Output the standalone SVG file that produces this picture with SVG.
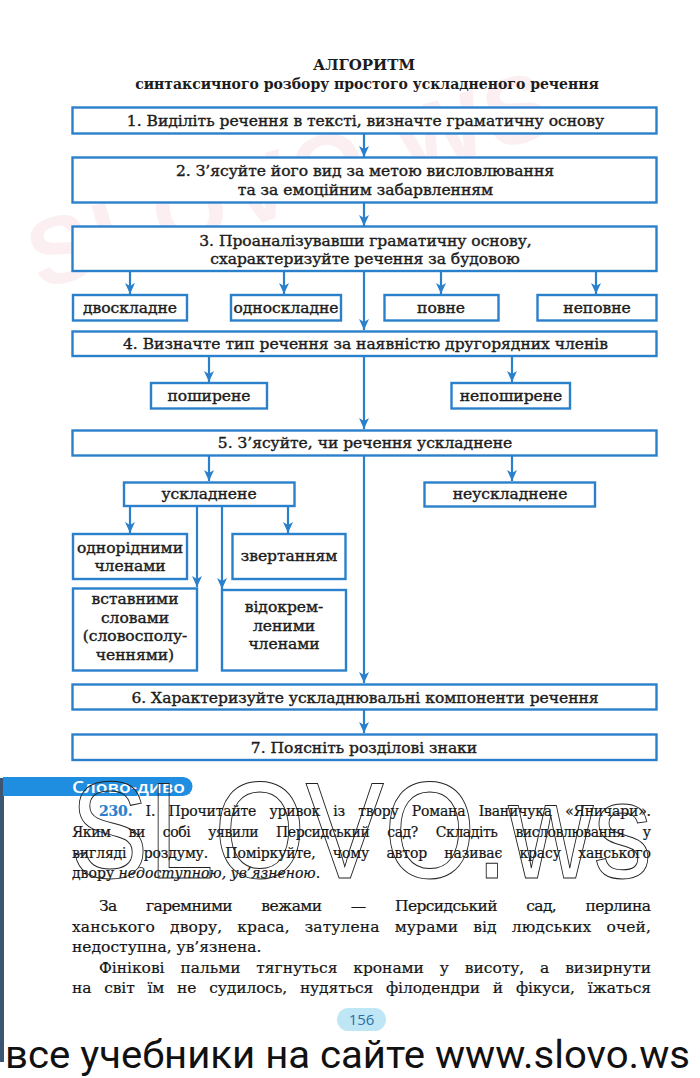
<svg xmlns="http://www.w3.org/2000/svg" width="700" height="1078" viewBox="0 0 700 1078">
<defs>
<style>
.box{fill:#fff;stroke:#2b80cc;stroke-width:2.4}
.t{font-family:"DejaVu Serif","Liberation Serif",serif;font-size:15.5px;fill:#1c1c1c;stroke:#1c1c1c;stroke-width:0.4;text-anchor:middle}
.ttl{font-family:"DejaVu Serif","Liberation Serif",serif;font-weight:bold;fill:#1c1c1c;text-anchor:middle}
.con{fill:none;stroke:#2b80cc;stroke-width:2.2}
.p{font-family:"DejaVu Serif","Liberation Serif",serif;font-size:14px;fill:#151515;stroke:#151515;stroke-width:0.2}
.p2{font-family:"DejaVu Serif","Liberation Serif",serif;font-size:15.5px;fill:#151515;stroke:#151515;stroke-width:0.2}
</style>
<marker id="ah" markerUnits="userSpaceOnUse" markerWidth="11" markerHeight="10" viewBox="0 0 11 10" refX="11" refY="5" orient="auto">
<path d="M0,0 L11,5 L0,10 L3,5 z" fill="#2b80cc"/>
</marker>
</defs>
<rect x="0" y="0" width="700" height="1078" fill="#ffffff"/>
<text x="40" y="290" transform="rotate(-17 40 290)" font-family="Liberation Sans, sans-serif" font-weight="bold" font-size="95" fill="#f2b3bd" opacity="0.2" textLength="540">SLOVO.WS</text>

<g id="title">
<text class="ttl" x="364" y="70" font-size="15">АЛГОРИТМ</text>
<text class="ttl" x="367" y="89" font-size="14">синтаксичного розбору простого ускладненого речення</text>
</g>

<g id="connectors">
<path class="con" d="M364,134 V157" marker-end="url(#ah)"/>
<path class="con" d="M364,203 V226" marker-end="url(#ah)"/>
<path class="con" d="M130,271 V294" marker-end="url(#ah)"/>
<path class="con" d="M284,271 V294" marker-end="url(#ah)"/>
<path class="con" d="M441,271 V294" marker-end="url(#ah)"/>
<path class="con" d="M596,271 V294" marker-end="url(#ah)"/>
<path class="con" d="M364,271 V330" marker-end="url(#ah)"/>
<path class="con" d="M209,356 V382" marker-end="url(#ah)"/>
<path class="con" d="M512,356 V382" marker-end="url(#ah)"/>
<path class="con" d="M364,356 V429" marker-end="url(#ah)"/>
<path class="con" d="M209,456 V481" marker-end="url(#ah)"/>
<path class="con" d="M512,456 V481" marker-end="url(#ah)"/>
<path class="con" d="M364,456 V683" marker-end="url(#ah)"/>
<path class="con" d="M130,506 V533" marker-end="url(#ah)"/>
<path class="con" d="M197,506 V587" marker-end="url(#ah)"/>
<path class="con" d="M222,506 V589" marker-end="url(#ah)"/>
<path class="con" d="M288,506 V533" marker-end="url(#ah)"/>
<path class="con" d="M364,709 V733" marker-end="url(#ah)"/>
</g>

<g id="step1"><rect class="box" x="72.5" y="107.5" width="584" height="26"/><text class="t" x="365.5" y="126">1. Виділіть речення в тексті, визначте граматичну основу</text></g>
<g id="step2"><rect class="box" x="72.5" y="157.5" width="584" height="45"/><text class="t" x="365" y="176">2. З’ясуйте його вид за метою висловлювання</text><text class="t" x="365.5" y="194.5">та за емоційним забарвленням</text></g>
<g id="step3"><rect class="box" x="72.5" y="226.5" width="584" height="44.5"/><text class="t" x="365.5" y="245.5">3. Проаналізувавши граматичну основу,</text><text class="t" x="365" y="263.5">схарактеризуйте речення за будовою</text></g>
<g id="dvoskladne"><rect class="box" x="73" y="295" width="114" height="25.5"/><text class="t" x="130" y="312.5">двоскладне</text></g>
<g id="odnoskladne"><rect class="box" x="231" y="295" width="110" height="25.5"/><text class="t" x="286" y="312.5">односкладне</text></g>
<g id="povne"><rect class="box" x="384.5" y="295" width="114" height="25.5"/><text class="t" x="441" y="312.5">повне</text></g>
<g id="nepovne"><rect class="box" x="537.5" y="295" width="119" height="25.5"/><text class="t" x="597" y="312.5">неповне</text></g>
<g id="step4"><rect class="box" x="72.5" y="331.5" width="584" height="24.5"/><text class="t" x="365.5" y="349">4. Визначте тип речення за наявністю другорядних членів</text></g>
<g id="poshyrene"><rect class="box" x="151" y="383" width="116" height="25.5"/><text class="t" x="209" y="400.5">поширене</text></g>
<g id="neposhyrene"><rect class="box" x="451.5" y="383" width="118.5" height="25.5"/><text class="t" x="511" y="400.5">непоширене</text></g>
<g id="step5"><rect class="box" x="72.5" y="430.5" width="584" height="25"/><text class="t" x="365" y="448">5. З’ясуйте, чи речення ускладнене</text></g>
<g id="uskladnene"><rect class="box" x="124" y="482.5" width="170.5" height="23.5"/><text class="t" x="209" y="499">ускладнене</text></g>
<g id="neuskladnene"><rect class="box" x="424.5" y="482.5" width="170.5" height="24"/><text class="t" x="510" y="499">неускладнене</text></g>
<g id="odnoridnymy"><rect class="box" x="73" y="534" width="114" height="45"/><text class="t" x="130" y="553">однорідними</text><text class="t" x="130" y="571">членами</text></g>
<g id="zvertanniam"><rect class="box" x="232.5" y="534" width="113" height="45"/><text class="t" x="289" y="561">звертанням</text></g>
<g id="vstavnymy"><rect class="box" x="73" y="588.5" width="124" height="82"/><text class="t" x="135" y="604">вставними</text><text class="t" x="135" y="622.5">словами</text><text class="t" x="135" y="641">(словосполу-</text><text class="t" x="135" y="659.5">ченнями)</text></g>
<g id="vidokremlenymy"><rect class="box" x="222" y="590" width="124" height="80.5"/><text class="t" x="284" y="612">відокрем-</text><text class="t" x="284" y="630.5">леними</text><text class="t" x="284" y="649">членами</text></g>
<g id="step6"><rect class="box" x="72.5" y="684.5" width="584" height="25"/><text class="t" x="365" y="702.5">6. Характеризуйте  ускладнювальні  компоненти речення</text></g>
<g id="step7"><rect class="box" x="72.5" y="734.5" width="584" height="25.5"/><text class="t" x="364" y="752.5">7. Поясніть розділові знаки</text></g>

<g id="page-text">
<rect x="0" y="778" width="4" height="284" fill="#3b5573"/>
<path d="M3,777 H183 A9.5,9.5 0 0 1 183,796 H3 Z" fill="#1f8ee0"/>
<text x="72" y="792.5" font-family="Open Sans, Liberation Sans, sans-serif" font-weight="600" font-size="17" fill="#ffffff" textLength="113" lengthAdjust="spacingAndGlyphs">Слово-диво</text>
<text class="p" x="99" y="816" word-spacing="9" textLength="552" lengthAdjust="spacing"><tspan fill="#2b80cc" stroke="#2b80cc" font-weight="bold">230.</tspan> І. Прочитайте уривок із твору Романа Іваничука «Яничари».</text>
<text class="p" x="72" y="837" word-spacing="14" textLength="579" lengthAdjust="spacing">Яким ви собі уявили Персидський сад? Складіть висловлювання у</text>
<text class="p" x="72" y="858" word-spacing="13" textLength="579" lengthAdjust="spacing">вигляді роздуму. Поміркуйте, чому автор називає красу ханського</text>
<text class="p" x="72" y="878">двору <tspan font-style="italic">недоступною, ув’язненою</tspan>.</text>
<text class="p2" x="99" y="911" word-spacing="25" textLength="552" lengthAdjust="spacing">За гаремними вежами — Персидський сад, перлина</text>
<text class="p2" x="72" y="931.5" word-spacing="10" textLength="579" lengthAdjust="spacing">ханського двору, краса, затулена мурами від людських очей,</text>
<text class="p2" x="72" y="952">недоступна, ув’язнена.</text>
<text class="p2" x="99" y="972.5" word-spacing="11" textLength="552" lengthAdjust="spacing">Фінікові пальми тягнуться кронами у висоту, а визирнути</text>
<text class="p2" x="72" y="993" word-spacing="8" textLength="579" lengthAdjust="spacing">на світ їм не судилось, нудяться філодендри й фікуси, їжаться</text>
<rect x="337" y="1008" width="49" height="23" rx="11.5" fill="#bfe6f5"/>
<text x="361.5" y="1025" font-family="Open Sans, Liberation Sans, sans-serif" font-size="15" fill="#2a6fa8" text-anchor="middle">156</text>
<text x="70" y="878" font-family="Liberation Sans, Arial, sans-serif" font-size="138" fill="none" stroke="#222" stroke-width="1" textLength="582" lengthAdjust="spacingAndGlyphs">SLOVO.ws</text>
<text x="5" y="1068" font-family="Roboto, Liberation Sans, sans-serif" font-size="38" fill="#111" textLength="685" lengthAdjust="spacingAndGlyphs">все учебники на сайте www.slovo.ws</text>
</g>
</svg>
